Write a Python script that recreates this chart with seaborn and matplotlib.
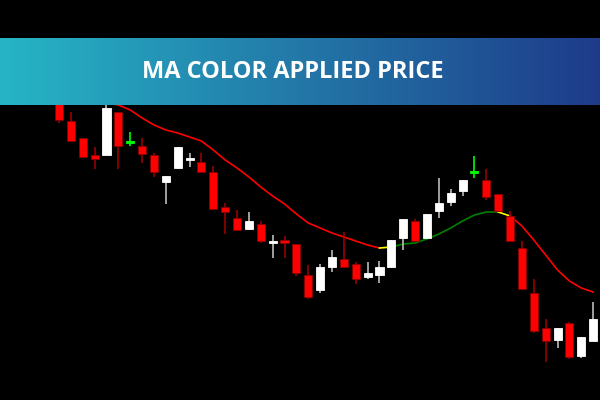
import numpy as np
import pandas as pd
import matplotlib
matplotlib.use("Agg")
import matplotlib.pyplot as plt
import seaborn as sns
from matplotlib.colors import LinearSegmentedColormap

idx = list(range(-4, 46))
opens  = [350,350,330,345,310,279,262,245,245,288,258,254,245,218,232,240,238,228,193,182,171,176,157,160,156,125,110,133,141,136,123,125,133,162,179,162,189,198,209,228,220,206,184,152,107,72,60,77,44,59]
closes = [335,335,350,320,280,259,243,241,292,254,258,246,228,224,253,242,228,191,188,170,179,159,159,157,127,103,133,143,133,121,127,133,160,181,159,186,197,207,220,228,203,189,159,111,69,59,72,43,63,81]
highs  = [358,356,355,350,312,288,262,253,295,288,268,262,247,224,253,247,247,234,197,190,188,179,165,164,156,135,136,150,168,138,138,139,160,181,181,186,222,211,220,244,231,206,189,159,121,81,72,78,63,98]
lows   = [330,330,325,315,277,259,243,231,245,231,254,237,223,196,231,233,228,191,166,170,170,157,142,142,124,101,107,128,132,116,121,117,132,150,159,162,182,194,204,222,200,188,159,111,67,38,52,41,42,59]
ma = [340,330,320,312,307,303,300,298,297,295,290,282,275,270,267,263,259,250,240,232,223,213,204,196,186,177,172,167,163,159,155,152,153,156,157,161,166,172,179,185,188,188,184,174,160,145,130,119,112,108]
ma_state = ["red"]*31 + ["yellow"] + ["green"]*9 + ["yellow"] + ["red"]*8

df = pd.DataFrame(dict(i=idx, o=opens, c=closes, h=highs, l=lows))

fig = plt.figure(figsize=(6, 4), dpi=100, facecolor="black")
ax = fig.add_axes([0, 0, 1, 1])
ax.set_facecolor("black")
sp = 11.87
ax.set_xlim(-59/sp, (600-59)/sp)
ax.set_ylim(0, 400)
ax.axis("off")

madf = pd.DataFrame(dict(i=idx, ma=ma, s=ma_state))
cols = {"red": "#ff0000", "yellow": "#ffff00", "green": "#008000"}
start = 0
for k in range(1, len(madf)+1):
    if k == len(madf) or madf.s[k] != madf.s[start]:
        seg = madf.iloc[start:min(k+1, len(madf))]
        sns.lineplot(data=seg, x="i", y="ma", color=cols[madf.s[start]], lw=1.2, ax=ax, zorder=2)
        start = k

for _, r in df.iterrows():
    up = r.c > r.o
    doji = r.c == r.o
    if doji:
        col = "#00ff00"; wcol = "#00ff00"
    elif up:
        col = "white"; wcol = "#bbbbbb"
    else:
        col = "#ff0000"; wcol = "#990000"
    ax.vlines(r.i, r.l, r.h, color=wcol, lw=1.2, zorder=3)
    lo, hi = min(r.o, r.c), max(r.o, r.c)
    hgt = max(hi - lo, 1.5)
    ax.bar(r.i, hgt, bottom=lo - (hgt - (hi-lo))/2, width=0.68, color=col,
           edgecolor="#880000" if col == "#ff0000" else col, lw=0.6, zorder=4)

grad = np.linspace(0, 1, 256).reshape(1, -1)
cmap = LinearSegmentedColormap.from_list("b", ["#26b5c6", "#2378a8", "#1e3b8a"])
bax = fig.add_axes([0, 1-105/400, 1, 67/400])
bax.imshow(grad, aspect="auto", cmap=cmap, extent=[0, 1, 0, 1])
bax.axis("off")
bax.text(0.488, 0.5, "MA COLOR APPLIED PRICE", color="white", ha="center", va="center",
         fontsize=17, fontweight="bold", family=["Open Sans", "DejaVu Sans"])

fig.savefig("out.png", dpi=100, facecolor="black")
